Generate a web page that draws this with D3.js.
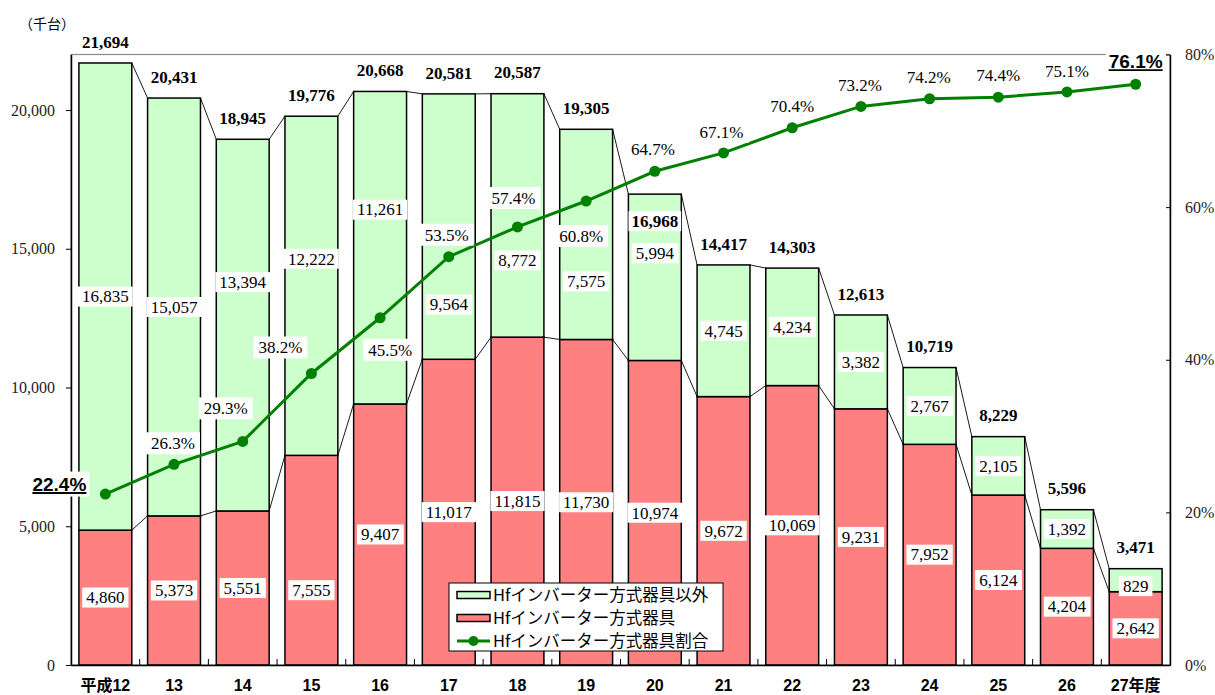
<!DOCTYPE html>
<html>
<head>
<meta charset="utf-8">
<script src="https://cdn.jsdelivr.net/npm/d3@7/dist/d3.min.js"></script>
<style>
  body { margin: 0; background: #fff; }
  svg { display: block; }
</style>
</head>
<body>
<svg id="chart" width="1215" height="695"></svg>
<script>
// Fiscal years (Heisei era)
const years = ["平成12", "13", "14", "15", "16", "17", "18", "19", "20", "21", "22", "23", "24", "25", "26", "27年度"];
// Shipments of Hf inverter fixtures (thousand units)
const hfUnits = [4860, 5373, 5551, 7555, 9407, 11017, 11815, 11730, 10974, 9672, 10069, 9231, 7952, 6124, 4204, 2642];
// Shipments of other fixtures (thousand units)
const otherUnits = [16835, 15057, 13394, 12222, 11261, 9564, 8772, 7575, 5994, 4745, 4234, 3382, 2767, 2105, 1392, 829];
// Total shipments (thousand units)
const totalUnits = [21694, 20431, 18945, 19776, 20668, 20581, 20587, 19305, 16968, 14417, 14303, 12613, 10719, 8229, 5596, 3471];
// Share of Hf inverter fixtures (%)
const hfShare = [22.4, 26.3, 29.3, 38.2, 45.5, 53.5, 57.4, 60.8, 64.7, 67.1, 70.4, 73.2, 74.2, 74.4, 75.1, 76.1];

const unitTicks = [0, 5000, 10000, 15000, 20000];
const shareTicks = [0, 20, 40, 60, 80];
const seriesNames = ["Hfインバーター方式器具以外", "Hfインバーター方式器具", "Hfインバーター方式器具割合"];
const unitCaption = "（千台）";

// ---- layout ----
const plot = { left: 71, right: 1170, top: 54.5, bottom: 665 };
const SERIF = "'Liberation Serif', 'Times New Roman', serif";
const SANS = "'Liberation Sans', Arial, 'Noto Sans CJK JP', sans-serif";
const CJK = "'Noto Sans CJK JP', 'Liberation Sans', sans-serif";
const GREEN_FILL = "#ccffcc", RED_FILL = "#ff8080", LINE = "#008000";

// hand-placed label nudges (pixels)
const otherLabelShift = { 2: -43, 3: -27, 4: -38, 5: 78, 6: 45, 7: 47, 8: -24, 15: 6 };
const hfLabelShift = { 3: 30 };
const shareLabelOffset = [[-46, -10], [-1, -21], [-17, -33], [-31, -26], [10, 32], [-2, -22], [-4, -29], [-5, 35],
                          [-2, -22], [-2, -21], [0, -22], [-1, -21], [-1, -22], [0, -22], [0, -21], [0, -23]];

const svg = d3.select("#chart");

const x = d3.scaleBand().domain(years).range([plot.left, plot.right]).paddingInner(0.23).paddingOuter(0.115);
const y = d3.scaleLinear().domain([0, 22000]).range([plot.bottom, plot.top]);
const y2 = d3.scaleLinear().domain([0, 80]).range([plot.bottom, plot.top]);
const bw = x.bandwidth();
const cx = d => x(d) + bw / 2;

// plot-area frame (grey)
svg.append("rect")
  .attr("x", plot.left).attr("y", plot.top)
  .attr("width", plot.right - plot.left).attr("height", plot.bottom - plot.top)
  .attr("fill", "none").attr("stroke", "#888").attr("stroke-width", 1.2);

// stacked bars
const bars = svg.append("g");
years.forEach((yr, i) => {
  bars.append("rect")
    .attr("x", x(yr)).attr("width", bw)
    .attr("y", y(hfUnits[i])).attr("height", y(0) - y(hfUnits[i]))
    .attr("fill", RED_FILL).attr("stroke", "#000").attr("stroke-width", 1.5);
  bars.append("rect")
    .attr("x", x(yr)).attr("width", bw)
    .attr("y", y(totalUnits[i])).attr("height", y(hfUnits[i]) - y(totalUnits[i]))
    .attr("fill", GREEN_FILL).attr("stroke", "#000").attr("stroke-width", 1.5);
});

// series connector lines between neighbouring bars
const conn = svg.append("g").attr("stroke", "#000").attr("stroke-width", 0.9);
for (let i = 0; i < years.length - 1; i++) {
  const x1 = x(years[i]) + bw, x2 = x(years[i + 1]);
  conn.append("line").attr("x1", x1).attr("x2", x2).attr("y1", y(totalUnits[i])).attr("y2", y(totalUnits[i + 1]));
  conn.append("line").attr("x1", x1).attr("x2", x2).attr("y1", y(hfUnits[i])).attr("y2", y(hfUnits[i + 1]));
}

// axes
const axisStyle = g => {
  g.select(".domain").attr("stroke", "#000").attr("stroke-width", 1.5);
  g.selectAll(".tick line").attr("stroke", "#000").attr("stroke-width", 1);
};
svg.append("g").attr("transform", `translate(${plot.left},0)`)
  .call(d3.axisLeft(y).tickValues(unitTicks).tickFormat(d3.format(",")).tickSizeInner(5).tickSizeOuter(0).tickPadding(11))
  .call(axisStyle)
  .call(g => g.selectAll("text").attr("font-family", SERIF).attr("font-size", 16).attr("fill", "#222"));

svg.append("g").attr("transform", `translate(${plot.right},0)`)
  .call(d3.axisRight(y2).tickValues(shareTicks).tickFormat(d => d + "%").tickSizeInner(-4).tickSizeOuter(0).tickPadding(15))
  .call(axisStyle)
  .call(g => g.selectAll("text").attr("font-family", SERIF).attr("font-size", 16).attr("fill", "#222"));

svg.append("g").attr("transform", `translate(0,${plot.bottom})`)
  .call(d3.axisBottom(x).tickSize(0).tickPadding(15))
  .call(axisStyle)
  .call(g => g.selectAll("text").attr("font-family", SANS).attr("font-size", 16).attr("font-weight", "bold").attr("fill", "#000"));

// category boundary ticks along the bottom axis
const boundaries = d3.range(1, years.length).map(i => plot.left + i * x.step());
svg.append("g").selectAll("line").data(boundaries).join("line")
  .attr("x1", d => d).attr("x2", d => d)
  .attr("y1", plot.bottom).attr("y2", plot.bottom - 6)
  .attr("stroke", "#000").attr("stroke-width", 1);

// share line with markers
const pts = years.map((yr, i) => [cx(yr), y2(hfShare[i])]);
svg.append("path").datum(pts)
  .attr("d", d3.line())
  .attr("fill", "none").attr("stroke", LINE).attr("stroke-width", 3);
svg.append("g").selectAll("circle").data(pts).join("circle")
  .attr("cx", d => d[0]).attr("cy", d => d[1]).attr("r", 5.5).attr("fill", LINE);

// label on a white box, centred on (px, py)
function boxedLabel(text, px, py, opt) {
  const o = Object.assign({ family: SERIF, size: 17, weight: "normal", padX: 4, boxH: 20, underline: false, box: true }, opt || {});
  const g = svg.append("g");
  const rect = g.append("rect").attr("fill", "#fff");
  const t = g.append("text")
    .attr("x", px).attr("y", py + o.size * 0.34)
    .attr("text-anchor", "middle")
    .attr("font-family", o.family).attr("font-size", o.size).attr("font-weight", o.weight)
    .attr("fill", "#000")
    .text(text);
  const bb = t.node().getBBox();
  if (o.box) {
    rect.attr("x", bb.x - o.padX).attr("width", bb.width + 2 * o.padX)
      .attr("y", py - o.boxH / 2).attr("height", o.boxH);
  } else rect.remove();
  if (o.underline) {
    g.append("line")
      .attr("x1", bb.x).attr("x2", bb.x + bb.width)
      .attr("y1", py + o.size * 0.34 + 2.5).attr("y2", py + o.size * 0.34 + 2.5)
      .attr("stroke", "#000").attr("stroke-width", 1.8);
  }
  return g;
}

const fmt = d3.format(",");

// segment value labels
years.forEach((yr, i) => {
  const hfMid = (y(0) + y(hfUnits[i])) / 2 + (hfLabelShift[i] || 0);
  boxedLabel(fmt(hfUnits[i]), cx(yr), hfMid);
  const otMid = (y(hfUnits[i]) + y(totalUnits[i])) / 2 + (otherLabelShift[i] || 0);
  boxedLabel(fmt(otherUnits[i]), cx(yr), otMid);
});

// total labels above each bar (one sits inside its bar)
years.forEach((yr, i) => {
  const inside = i === 8;
  const py = inside ? y(totalUnits[i]) + 27 : y(totalUnits[i]) - 21;
  boxedLabel(fmt(totalUnits[i]), cx(yr), py, { weight: "bold", box: inside, padX: 3 });
});

// share labels
years.forEach((yr, i) => {
  const [dx, dy] = shareLabelOffset[i];
  const [px, py] = pts[i];
  const emphasised = i === 0 || i === years.length - 1;
  const label = hfShare[i].toFixed(1) + "%";
  if (emphasised) {
    boxedLabel(label, px + dx, py + dy, { family: SANS, size: 19, weight: "bold", underline: true, padX: 3, boxH: 25 });
  } else {
    boxedLabel(label, px + dx, py + dy, { size: 17, padX: 5, boxH: 22 });
  }
});

// unit caption
svg.append("text")
  .attr("x", 19).attr("y", 29)
  .attr("font-family", CJK).attr("font-size", 14).attr("fill", "#000")
  .text(unitCaption);

// legend
const lg = svg.append("g").attr("transform", "translate(449,583)");
lg.append("rect").attr("width", 274).attr("height", 68)
  .attr("fill", "#fff").attr("stroke", "#000").attr("stroke-width", 1);
const rowY = [12, 35, 58];
lg.append("rect").attr("x", 8).attr("y", rowY[0] - 3.5).attr("width", 33).attr("height", 7)
  .attr("fill", GREEN_FILL).attr("stroke", "#000").attr("stroke-width", 1.5);
lg.append("rect").attr("x", 8).attr("y", rowY[1] - 3.5).attr("width", 33).attr("height", 7)
  .attr("fill", RED_FILL).attr("stroke", "#000").attr("stroke-width", 1.5);
lg.append("line").attr("x1", 8).attr("x2", 41).attr("y1", rowY[2]).attr("y2", rowY[2])
  .attr("stroke", LINE).attr("stroke-width", 3);
lg.append("circle").attr("cx", 24.5).attr("cy", rowY[2]).attr("r", 5).attr("fill", LINE);
lg.selectAll("text.item").data(seriesNames).join("text")
  .attr("class", "item")
  .attr("x", 44).attr("y", (d, i) => rowY[i] + 6)
  .attr("font-family", CJK).attr("font-size", 16.5).attr("fill", "#000")
  .text(d => d);
</script>
</body>
</html>
